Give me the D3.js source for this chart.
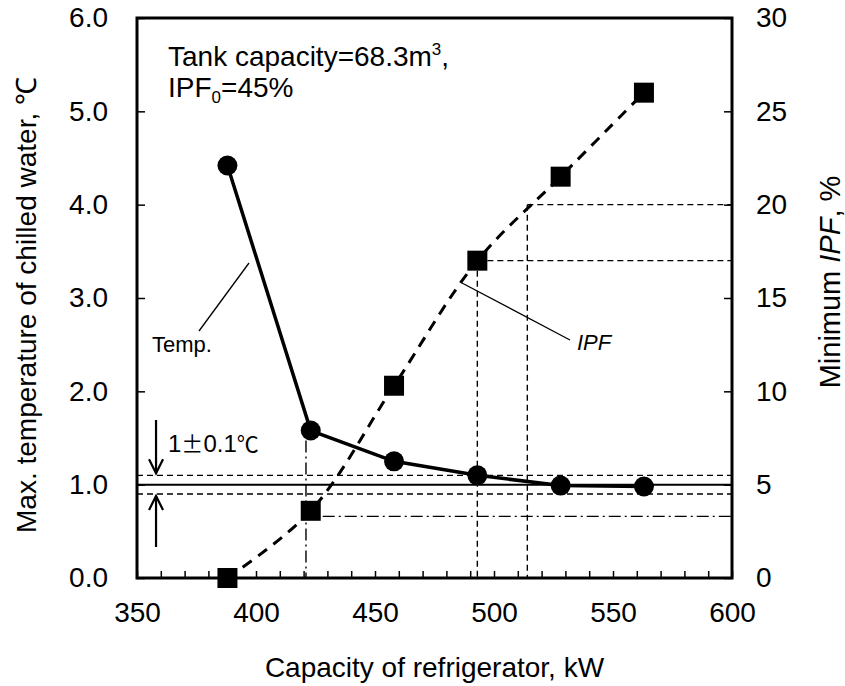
<!DOCTYPE html>
<html>
<head>
<meta charset="utf-8">
<script src="https://cdn.jsdelivr.net/npm/d3@7/dist/d3.min.js"></script>
<style>
  html, body { margin: 0; padding: 0; background: #fff; }
  svg { display: block; font-family: "Liberation Sans", Arial, sans-serif; }
</style>
</head>
<body>
<svg id="chart" width="845" height="686"></svg>
<script>
// ---- data ----
const capacity = [388, 423, 458, 493, 528, 563];          // kW
const maxTemp  = [4.42, 1.58, 1.25, 1.10, 0.99, 0.98];    // °C
const minIPF   = [0.0, 3.6, 10.3, 17.0, 21.5, 26.0];      // %
const xTicks = [350, 400, 450, 500, 550, 600];
const yLeftTicks = [0, 1, 2, 3, 4, 5, 6];
const yRightTicks = [0, 5, 10, 15, 20, 25, 30];
const tempTarget = 1.0, tempBand = 0.1;
const refCap420 = 421, refIPF420 = 3.3;
const refCap17 = 493, refIPF17 = 17;
const refCap20 = 514, refIPF20 = 20;

// ---- layout ----
const L = 137, T = 18, R = 732, B = 578;
const svg = d3.select("#chart");

const x = d3.scaleLinear().domain([350, 600]).range([L, R]);
const yL = d3.scaleLinear().domain([0, 6]).range([B, T]);
const yR = d3.scaleLinear().domain([0, 30]).range([B, T]);

const FS = 28;
const FONT = '"Liberation Sans", Arial, sans-serif';

// axes
const gx = svg.append("g").attr("transform", `translate(0,${B})`)
  .call(d3.axisBottom(x).tickValues(d3.range(350, 601, 10)).tickSizeInner(-7).tickSizeOuter(0)
    .tickPadding(24).tickFormat(d => xTicks.includes(d) ? d : ""));
const gyl = svg.append("g").attr("transform", `translate(${L},0)`)
  .call(d3.axisLeft(yL).tickValues(yLeftTicks).tickSizeInner(-8).tickSizeOuter(0)
    .tickPadding(29).tickFormat(d3.format(".1f")));
const gyr = svg.append("g").attr("transform", `translate(${R},0)`)
  .call(d3.axisRight(yR).tickValues(yRightTicks).tickSizeInner(-8).tickSizeOuter(0)
    .tickPadding(24).tickFormat(d3.format("d")));
[gx, gyl, gyr].forEach(g => {
  g.select(".domain").remove();
  g.selectAll(".tick line").attr("stroke", "#000").attr("stroke-width", 1.5);
  g.selectAll(".tick text").attr("fill", "#000").style("font-size", FS + "px")
    .style("font-family", FONT);
});

// frame
svg.append("rect").attr("x", L).attr("y", T).attr("width", R - L).attr("height", B - T)
  .attr("fill", "none").attr("stroke", "#000").attr("stroke-width", 3);

// reference lines
const thin = 1.4;
svg.append("line").attr("x1", L).attr("x2", R).attr("y1", yL(tempTarget)).attr("y2", yL(tempTarget))
  .attr("stroke", "#000").attr("stroke-width", 2);
[tempTarget + tempBand, tempTarget - tempBand].forEach(v => {
  svg.append("line").attr("x1", L).attr("x2", R).attr("y1", yL(v)).attr("y2", yL(v))
    .attr("stroke", "#000").attr("stroke-width", thin).attr("stroke-dasharray", "6,4");
});
// dash-dot at 420 kW
svg.append("line").attr("x1", x(refCap420)).attr("x2", x(refCap420))
  .attr("y1", yL(maxTemp[1]) + 10).attr("y2", B)
  .attr("stroke", "#000").attr("stroke-width", thin).attr("stroke-dasharray", "12,4,2,4");
svg.append("line").attr("x1", x(capacity[1]) + 12).attr("x2", R)
  .attr("y1", yR(refIPF420)).attr("y2", yR(refIPF420))
  .attr("stroke", "#000").attr("stroke-width", thin).attr("stroke-dasharray", "12,4,2,4");
// dashed at IPF 17 and 20
[[refCap17, refIPF17], [refCap20, refIPF20]].forEach(([c, p]) => {
  svg.append("line").attr("x1", x(c)).attr("x2", x(c)).attr("y1", yR(p)).attr("y2", B)
    .attr("stroke", "#000").attr("stroke-width", thin).attr("stroke-dasharray", "6,4");
  svg.append("line").attr("x1", x(c)).attr("x2", R).attr("y1", yR(p)).attr("y2", yR(p))
    .attr("stroke", "#000").attr("stroke-width", thin).attr("stroke-dasharray", "6,4");
});

// IPF dashed smooth line
const ipfData = capacity.map((c, i) => [c, minIPF[i]]);
svg.append("path").datum(ipfData)
  .attr("d", d3.line().x(d => x(d[0])).y(d => yR(d[1])).curve(d3.curveCatmullRom.alpha(0.5)))
  .attr("fill", "none").attr("stroke", "#000").attr("stroke-width", 3).attr("stroke-dasharray", "11,8");

// Temp solid line
const tData = capacity.map((c, i) => [c, maxTemp[i]]);
svg.append("path").datum(tData)
  .attr("d", d3.line().x(d => x(d[0])).y(d => yL(d[1])))
  .attr("fill", "none").attr("stroke", "#000").attr("stroke-width", 3.5);

// markers
svg.selectAll("circle.t").data(tData).enter().append("circle")
  .attr("cx", d => x(d[0])).attr("cy", d => yL(d[1])).attr("r", 10).attr("fill", "#000");
svg.selectAll("rect.p").data(ipfData).enter().append("rect")
  .attr("x", d => x(d[0]) - 10).attr("y", d => yR(d[1]) - 10)
  .attr("width", 20).attr("height", 20).attr("fill", "#000");

// arrows
const arrowX = x(358);
function arrow(y1, y2) {
  svg.append("line").attr("x1", arrowX).attr("x2", arrowX).attr("y1", y1).attr("y2", y2)
    .attr("stroke", "#000").attr("stroke-width", 2.2);
  const dir = y2 > y1 ? -1 : 1;
  svg.append("path")
    .attr("d", `M${arrowX - 7},${y2 + dir * 14}L${arrowX},${y2}L${arrowX + 7},${y2 + dir * 14}`)
    .attr("fill", "none").attr("stroke", "#000").attr("stroke-width", 2.2);
}
arrow(420, yL(tempTarget + tempBand) - 2);
arrow(547, yL(tempTarget - tempBand) + 2);

// annotations
const ann = svg.append("g").attr("fill", "#000");
const tb = ann.append("text").attr("x", 168).attr("y", 452).style("font-size", "24px");
tb.append("tspan").text("1");
tb.append("tspan").style("font-family", '"Noto Sans CJK JP", sans-serif').style("font-size", "22px").text("±");
tb.append("tspan").text("0.1");
tb.append("tspan").style("font-family", '"Noto Sans CJK JP", sans-serif').style("font-size", "22px").text("℃");

ann.append("text").attr("x", 152).attr("y", 352).style("font-size", "22px").text("Temp.");
svg.append("line").attr("x1", 199).attr("y1", 331).attr("x2", 249).attr("y2", 263)
  .attr("stroke", "#000").attr("stroke-width", 1.3);
svg.append("line").attr("x1", 462).attr("y1", 283).attr("x2", 570).attr("y2", 340)
  .attr("stroke", "#000").attr("stroke-width", 1.3);
ann.append("text").attr("x", 577).attr("y", 350).style("font-size", "22px")
  .style("font-style", "italic").text("IPF");

const t1 = ann.append("text").attr("x", 168).attr("y", 66).style("font-size", "28px");
t1.append("tspan").text("Tank capacity=68.3m");
t1.append("tspan").attr("dy", -11).style("font-size", "17px").text("3");
t1.append("tspan").attr("dy", 11).text(",");
const t2 = ann.append("text").attr("x", 168).attr("y", 97).style("font-size", "28px");
t2.append("tspan").text("IPF");
t2.append("tspan").attr("dy", 6).style("font-size", "17px").text("0");
t2.append("tspan").attr("dy", -6).text("=45%");

// axis titles
svg.append("text").attr("x", (L + R) / 2).attr("y", 677).attr("text-anchor", "middle")
  .style("font-size", FS + "px").text("Capacity of refrigerator, kW");
svg.append("text").attr("transform", `translate(36,305) rotate(-90)`)
  .attr("text-anchor", "middle").style("font-size", FS + "px")
  .text("Max. temperature of chilled water, ℃");
const rt = svg.append("text").attr("transform", `translate(840,282) rotate(-90)`)
  .attr("text-anchor", "middle").style("font-size", "29px");
rt.append("tspan").text("Minimum ");
rt.append("tspan").style("font-style", "italic").text("IPF");
rt.append("tspan").text(", %");
</script>
</body>
</html>
